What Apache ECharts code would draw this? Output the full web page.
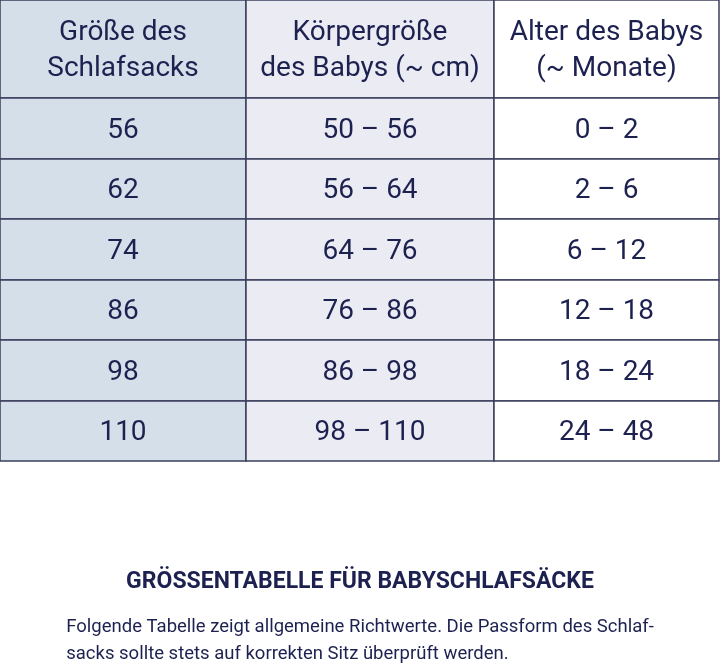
<!DOCTYPE html><html><head><meta charset="utf-8"><script src="https://cdn.jsdelivr.net/npm/echarts@6/dist/echarts.min.js"></script>
<style>html,body{margin:0;padding:0;background:#fff}#c{width:720px;height:667px}</style></head><body><div id="c"></div><script>
const headers=["Größe des\nSchlafsacks","Körpergröße\ndes Babys (~ cm)","Alter des Babys\n(~ Monate)"];
const sleepingBagSizes=["56","62","74","86","98","110"];
const babyHeights=["50 – 56","56 – 64","64 – 76","76 – 86","86 – 98","98 – 110"];
const babyAges=["0 – 2","2 – 6","6 – 12","12 – 18","18 – 24","24 – 48"];
const title="GRÖSSENTABELLE FÜR BABYSCHLAFSÄCKE";
const note="Folgende Tabelle zeigt allgemeine Richtwerte. Die Passform des Schlaf-\nsacks sollte stets auf korrekten Sitz überprüft werden.";
// layout
const colEdges=[0,246,494,719];
const rowEdges=[0,98,159,219,280,340,401,461];
const colFill=['#d5dfe9','#ebecf3','#ffffff'];
const cols=[sleepingBagSizes,babyHeights,babyAges];
const data=[];
for(let c=0;c<3;c++){data.push([c,0,headers[c]]);for(let r=0;r<6;r++)data.push([c,r+1,cols[c][r]]);}
const chart=echarts.init(document.getElementById('c'));
chart.setOption({
 animation:false,
 grid:{left:0,right:0,top:0,bottom:206},
 xAxis:{type:'value',min:0,max:720,show:false},
 yAxis:{type:'value',min:0,max:461,inverse:true,show:false},
 series:[{type:'custom',data:data,renderItem:function(p,api){
   const c=api.value(0),r=api.value(1),t=data[p.dataIndex][2];
   const a=api.coord([colEdges[c],rowEdges[r]]),b=api.coord([colEdges[c+1],rowEdges[r+1]]);
   return {type:'group',children:[
    {type:'rect',shape:{x:a[0],y:a[1],width:b[0]-a[0],height:b[1]-a[1]},style:{fill:colFill[c],stroke:'#3b3f5e',lineWidth:1.5}},
    {type:'text',x:(a[0]+b[0])/2,y:(a[1]+b[1])/2+2,style:{text:t,fill:'#1d2150',font:'28px Roboto',align:'center',verticalAlign:'middle',lineHeight:36}}
   ]};
 }}],
 graphic:[
  {type:'text',left:'center',top:571,style:{text:title,fill:'#1d2150',font:'bold 23px Roboto'}},
  {type:'text',left:'center',top:614,style:{text:note,fill:'#1d2150',font:'18.5px Roboto',align:'center',lineHeight:27}}
 ]
});
</script></body></html>
